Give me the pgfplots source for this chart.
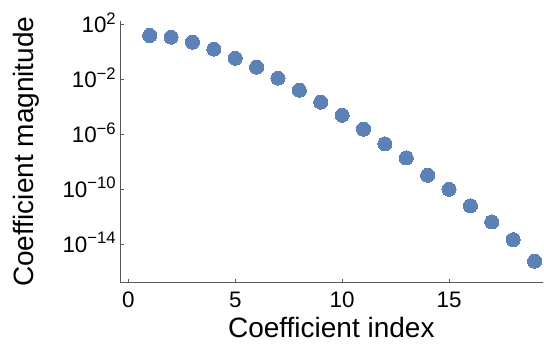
\documentclass[border=0pt]{standalone}
\usepackage{pgfplots}
\pgfplotsset{compat=1.18}
\usepackage{fontspec}
\setmainfont{Liberation Sans}

\definecolor{pointblue}{rgb}{0.368417,0.506779,0.709798}
\definecolor{axisgray}{gray}{0.35}

% power-of-ten tick label: 10 with a raised exponent
\newcommand{\tenpow}[1]{10\raisebox{6.6pt}{\fontsize{12.5}{13}\selectfont #1}}

\begin{document}
\begin{tikzpicture}
\path[use as bounding box] (-90pt,-46.7pt) rectangle (318pt,212pt);
\begin{axis}[
  at={(0,0)}, anchor=south west,
  scale only axis, width=317pt, height=196.5pt,
  xmin=-0.39, xmax=19.38,
  ymode=log, ymin=1.7e-17, ymax=2.0e2,
  axis lines*=left,
  axis line style={axisgray, line width=0.7pt},
  tick style={axisgray, line width=0.7pt},
  tick align=inside,
  major tick length=3pt,
  yminorticks=false,
  /pgf/number format/assume math mode=true,
  xtick={0,5,10,15},
  ytick={1e2,1e-2,1e-6,1e-10,1e-14},
  yticklabels={\tenpow{2},\tenpow{−2},\tenpow{−6},\tenpow{−10},\tenpow{−14}},
  x tick label style={font=\fontsize{16.8}{20}\selectfont, anchor=base, inner sep=0pt, yshift=-19pt},
  y tick label style={font=\fontsize{16.8}{20}\selectfont, anchor=base east, inner sep=0pt, xshift=-3pt, yshift=-6.1pt},
  xlabel={Coefficient index},
  ylabel={Coefficient magnitude},
  xlabel style={font=\fontsize{21}{25}\selectfont, at={(axis description cs:0.5,-0.2112)}, anchor=base, inner sep=0pt},
  ylabel style={font=\fontsize{21}{25}\selectfont, at={(axis description cs:-0.2050,0.5)}, anchor=base, inner sep=0pt},
  clip=false,
]
\addplot[only marks, color=pointblue, mark=*, mark size=5.3pt, mark options={fill=pointblue, draw=pointblue, line width=0pt}]
  table[x=n, y=c] {
  n  c
  1  1.66e1
  2  1.26e1
  3  5.5e0
  4  1.70e0
  5  3.7e-1
  6  8.3e-2
  7  1.32e-2
  8  1.74e-3
  9  2.34e-4
  10 2.63e-5
  11 2.51e-6
  12 2.14e-7
  13 2.04e-8
  14 1.12e-9
  15 1.07e-10
  16 6.6e-12
  17 4.5e-13
  18 2.3e-14
  19 6.2e-16
  };
\end{axis}
\end{tikzpicture}
\end{document}
